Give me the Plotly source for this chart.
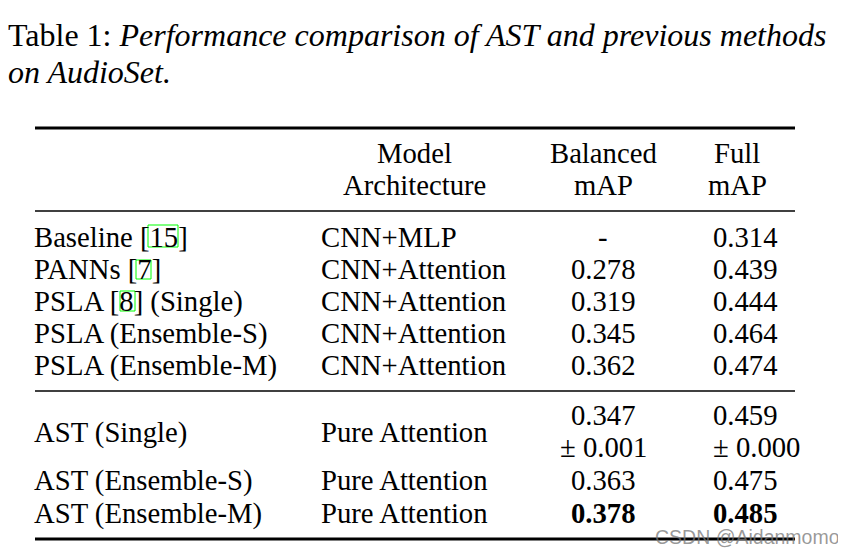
import plotly.graph_objects as go

# ---- data ----
caption_label = "Table 1:"
caption_text = ["Performance comparison of AST and previous methods", "on AudioSet."]
header_arch = ["Model", "Architecture"]
header_bal = ["Balanced", "mAP"]
header_full = ["Full", "mAP"]

models = ["Baseline [15]", "PANNs [7]", "PSLA [8] (Single)", "PSLA (Ensemble-S)", "PSLA (Ensemble-M)",
          "AST (Single)", "AST (Ensemble-S)", "AST (Ensemble-M)"]
architectures = ["CNN+MLP", "CNN+Attention", "CNN+Attention", "CNN+Attention", "CNN+Attention",
                 "Pure Attention", "Pure Attention", "Pure Attention"]
balanced_map = ["-", "0.278", "0.319", "0.345", "0.362", "0.347", "0.363", "0.378"]
balanced_std = ["", "", "", "", "", "± 0.001", "", ""]
full_map = ["0.314", "0.439", "0.444", "0.464", "0.474", "0.459", "0.475", "0.485"]
full_std = ["", "", "", "", "", "± 0.000", "", ""]
is_best = [False, False, False, False, False, False, False, True]
watermark = "CSDN @Aidanmomo"

W, H = 846, 553
OFF = 8  # page body margin
FONT = "Liberation Serif"
FS = 28.7
CAP_FS = 32

fig = go.Figure()
fig.update_layout(
    width=W - OFF, height=H - OFF, margin=dict(l=0, r=0, t=0, b=0),
    paper_bgcolor="white", plot_bgcolor="white", showlegend=False,
    xaxis=dict(range=[OFF, W], visible=False, fixedrange=True),
    yaxis=dict(range=[H, OFF], visible=False, fixedrange=True),
)

def txt(x, y, s, anchor="left", size=FS, color="black", family=FONT):
    fig.add_annotation(x=x, y=y, text=s, showarrow=False, xanchor=anchor, yanchor="middle",
                       font=dict(family=family, size=size, color=color), xref="x", yref="y",
                       borderpad=0, xshift=(-2 if anchor == "left" else 0))

# caption
txt(9, 35, caption_label + " <i>" + caption_text[0] + "</i>", size=CAP_FS)
txt(9, 72, "<i>" + caption_text[1] + "</i>", size=CAP_FS)

# column layout
X_NAME, X_ARCH, X_BAL, X_FULL = 35, 322, 603, 714
L, R = 35, 795

# rules
for y, w in [(128, 3), (211, 1.6), (391, 1.6), (539, 3)]:
    fig.add_shape(type="line", x0=L, x1=R, y0=y, y1=y, line=dict(color="black", width=w))

# header
for i, yy in enumerate([153, 185]):
    txt(414, yy, header_arch[i], anchor="center")
    txt(X_BAL, yy, header_bal[i], anchor="center")
    txt(737, yy, header_full[i], anchor="center")

# rows
row_y = [237, 269, 301, 333, 365, 432, 480, 513]
for i in range(len(models)):
    y = row_y[i]
    txt(X_NAME, y, models[i])
    txt(X_ARCH, y, architectures[i])
    b = balanced_map[i]
    f = full_map[i]
    if is_best[i]:
        b, f = "<b>" + b + "</b>", "<b>" + f + "</b>"
    if balanced_std[i]:
        txt(X_BAL, y - 17, b, anchor="center")
        txt(X_BAL, y + 15, balanced_std[i], anchor="center")
        txt(X_FULL, y - 17, f)
        txt(X_FULL, y + 15, full_std[i])
    else:
        txt(X_BAL, y, b, anchor="center")
        txt(X_FULL, y, f)

# citation link boxes (green)
for x0, x1, y0, y1 in [(148, 178, 225, 247), (136, 151, 260, 279), (120, 135, 291, 311)]:
    fig.add_shape(type="rect", x0=x0, x1=x1, y0=y0, y1=y1, line=dict(color="#00ff00", width=1))

# watermark
txt(656, 537, watermark, size=19.5, color="rgba(120,120,120,0.75)", family="Liberation Sans")

fig.write_html("out.html")
